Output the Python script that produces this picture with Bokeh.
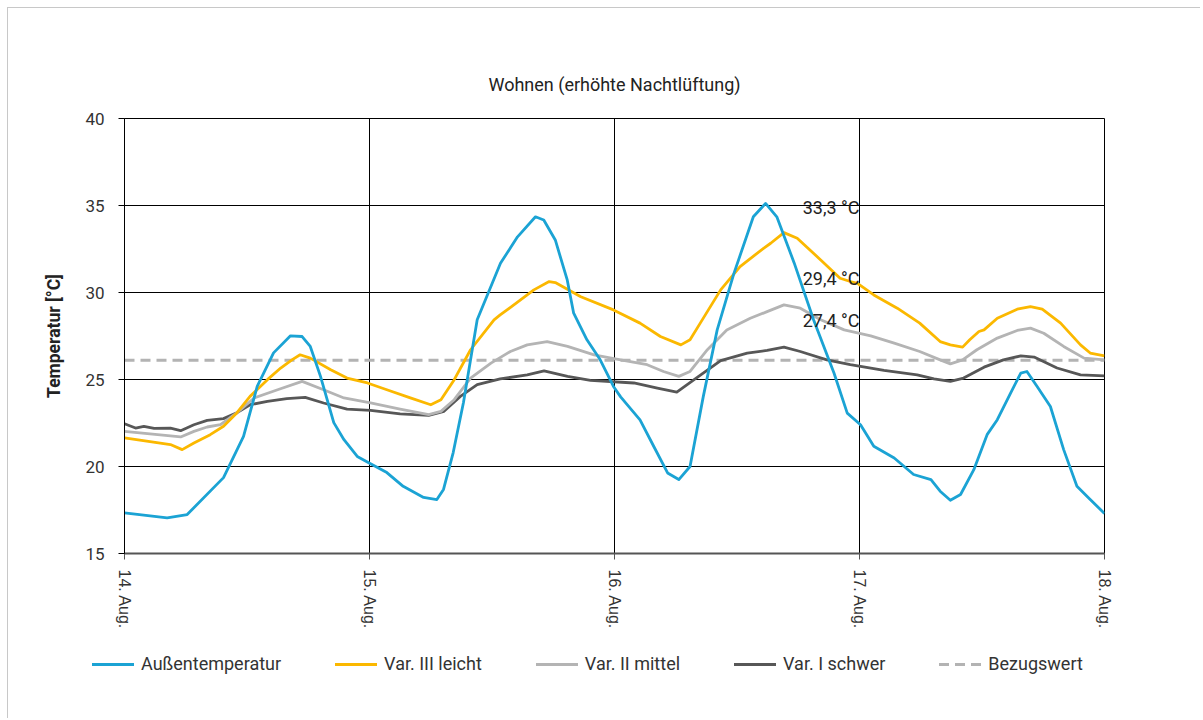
from bokeh.plotting import figure
from bokeh.models import Label, FixedTicker, Range1d, Title, Div
from bokeh.layouts import column
from bokeh.embed import file_html
from bokeh.resources import INLINE

# ---------------- data (hours since 14. Aug 00:00, temperature °C) ----------------
tick_hours = [0, 24, 48, 72, 96]
tick_labels = ["14. Aug.", "15. Aug.", "16. Aug.", "17. Aug.", "18. Aug."]

aussen_h = [0, 4.18, 6.14, 9.7, 11.66, 13.0, 14.6, 16.26, 17.4, 18.2, 19.2, 20.5, 21.5, 22.8,
            24.1, 25.7, 27.3, 29.3, 30.6, 31.25, 32.2, 33.2, 34.55, 36.83, 38.5, 40.26, 41.07,
            42.2, 43.37, 44.0, 45.3, 46.6, 47.9, 48.6, 50.5, 51.85, 53.2, 54.3, 55.4, 56.7,
            58.06, 59.7, 61.6, 62.8, 63.9, 65.6, 67.5, 69.5, 70.8, 72.1, 73.4, 75.4, 77.3,
            79.0, 79.9, 80.9, 81.9, 83.2, 84.5, 85.5, 86.8, 87.8, 88.4, 89.4, 90.7, 92.0,
            93.3, 94.6, 96]
aussen_t = [17.34, 17.05, 17.24, 19.36, 21.73, 24.6, 26.53, 27.51, 27.47, 26.9, 25.18, 22.52,
            21.54, 20.58, 20.16, 19.65, 18.86, 18.22, 18.10, 18.68, 20.8, 23.66, 28.43, 31.68,
            33.2, 34.35, 34.17, 33.02, 30.72, 28.81, 27.28, 26.13, 24.6, 24.0, 22.68, 21.15,
            19.63, 19.25, 20.0, 24.03, 27.85, 31.1, 34.35, 35.12, 34.35, 31.7, 28.43, 25.37,
            23.07, 22.4, 21.16, 20.49, 19.54, 19.25, 18.58, 18.06, 18.39, 19.82, 21.83, 22.69,
            24.22, 25.37, 25.46, 24.6, 23.45, 20.97, 18.86, 18.1, 17.3]

leicht_h = [0, 4.5, 5.65, 6.8, 8.4, 9.7, 11.0, 12.3, 14.0, 15.3, 16.4, 17.2, 18.2, 20.2, 21.8,
            23.8, 25.7, 28.0, 30.0, 31.0, 32.3, 33.9, 36.2, 36.8, 38.5, 40.1, 41.6, 42.2, 44.7,
            47.9, 50.5, 52.5, 54.5, 55.4, 56.4, 58.4, 60.3, 62.6, 63.3, 64.6, 65.9, 68.2, 70.1,
            71.1, 71.8, 73.4, 75.7, 77.9, 79.9, 80.9, 82.1, 82.8, 83.7, 84.2, 85.5, 87.45,
            88.75, 89.9, 91.7, 93.65, 94.6, 96]
leicht_t = [21.64, 21.26, 20.97, 21.35, 21.83, 22.31, 23.08, 24.03, 24.99, 25.66, 26.13, 26.42,
            26.23, 25.56, 25.08, 24.8, 24.41, 23.94, 23.55, 23.84, 24.99, 26.71, 28.43, 28.71,
            29.45, 30.15, 30.63, 30.57, 29.76, 29.0, 28.24, 27.47, 26.99, 27.28, 28.24, 30.15,
            31.49, 32.54, 32.83, 33.44, 33.12, 31.87, 30.82, 30.63, 30.53, 29.86, 29.1, 28.24,
            27.18, 26.99, 26.86, 27.28, 27.76, 27.85, 28.52, 29.04, 29.19, 29.04, 28.24, 26.99,
            26.52, 26.36]

mittel_h = [0, 5.5, 6.8, 8.1, 9.4, 11.0, 12.7, 15.0, 17.4, 19.5, 21.5, 24.1, 27.0, 29.8, 31.0,
            32.3, 33.9, 35.9, 37.8, 39.45, 41.4, 43.4, 46.0, 48.6, 51.2, 52.8, 54.3, 55.4, 57.1,
            59.0, 61.3, 62.95, 64.6, 66.2, 68.2, 70.5, 73.1, 75.4, 77.9, 79.9, 80.9, 82.1, 83.5,
            85.5, 87.45, 88.75, 90.05, 92.0, 94.0, 96]
mittel_t = [22.02, 21.7, 22.02, 22.27, 22.4, 23.08, 23.94, 24.41, 24.89, 24.41, 23.94, 23.65,
            23.3, 22.98, 23.17, 23.84, 25.08, 25.94, 26.61, 26.99, 27.18, 26.9, 26.42, 26.13,
            25.85, 25.46, 25.18, 25.46, 26.71, 27.85, 28.52, 28.9, 29.29, 29.1, 28.43, 27.85,
            27.51, 27.09, 26.61, 26.13, 25.9, 26.13, 26.71, 27.38, 27.82, 27.95, 27.66, 26.9,
            26.23, 26.13]

schwer_h = [0, 1.08, 1.9, 2.9, 4.5, 5.5, 6.8, 8.1, 9.7, 11.0, 12.3, 14.0, 15.9, 17.7, 19.5,
            21.8, 24.1, 27.0, 29.8, 31.3, 32.9, 34.55, 36.8, 39.45, 41.1, 43.4, 45.65, 49.9,
            52.2, 54.1, 55.8, 58.4, 61.0, 62.95, 64.6, 66.2, 68.8, 71.1, 74.4, 77.65, 79.3,
            80.9, 82.2, 84.2, 86.1, 87.8, 89.1, 91.35, 93.65, 96]
schwer_t = [22.46, 22.21, 22.31, 22.19, 22.21, 22.06, 22.4, 22.65, 22.75, 23.08, 23.55, 23.74,
            23.9, 23.97, 23.65, 23.3, 23.22, 23.02, 22.94, 23.17, 24.03, 24.7, 25.03, 25.27,
            25.5, 25.18, 24.95, 24.8, 24.51, 24.28, 24.99, 26.09, 26.52, 26.67, 26.86, 26.61,
            26.13, 25.85, 25.52, 25.27, 25.03, 24.89, 25.08, 25.71, 26.13, 26.36, 26.29, 25.66,
            25.27, 25.21]

bezug_h = [0, 96]
bezug_t = [26.1, 26.1]

series_names = ["Außentemperatur", "Var. III leicht", "Var. II mittel", "Var. I schwer", "Bezugswert"]
series_colors = ["#1ba3d4", "#fbb800", "#b4b4b4", "#575757", "#b3b3b3"]
annot_texts = ["33,3 °C", "29,4 °C", "27,4 °C"]
annot_y = [34.9, 30.8, 28.4]
title_text = "Wohnen (erhöhte Nachtlüftung)"

FONT = "Roboto"
DASH = "10 6"

# ---------------- main figure ----------------
p = figure(width=1200, height=632, output_backend="svg", toolbar_location=None,
           x_range=Range1d(0, 96), y_range=Range1d(15, 40),
           min_border_left=124, min_border_right=96, min_border_top=118, min_border_bottom=78)
p.background_fill_color = "white"
p.border_fill_alpha = 0
p.outline_line_color = "black"
p.outline_line_width = 1

p.xaxis.ticker = FixedTicker(ticks=tick_hours)
p.xaxis.major_label_overrides = {h: l for h, l in zip(tick_hours, tick_labels)}
p.xaxis.major_label_orientation = "vertical"
p.xaxis.major_label_text_font = "Liberation Sans"
p.xaxis.major_label_text_font_size = "16px"
p.xaxis.major_label_text_color = "#333333"
p.xaxis.major_label_standoff = 10
p.xaxis.major_tick_out = 6
p.xaxis.major_tick_in = 0
p.xaxis.minor_tick_line_color = None
p.xaxis.axis_line_color = "#555555"
p.xaxis.axis_line_width = 2
p.xaxis.major_tick_line_color = "#555555"

p.yaxis.ticker = FixedTicker(ticks=[15, 20, 25, 30, 35, 40])
p.yaxis.major_label_text_font = FONT
p.yaxis.major_label_text_font_size = "17px"
p.yaxis.major_label_text_color = "#333333"
p.yaxis.major_label_standoff = 14
p.yaxis.major_tick_out = 6
p.yaxis.major_tick_in = 0
p.yaxis.minor_tick_line_color = None
p.yaxis.axis_line_color = "black"
p.yaxis.major_tick_line_color = "black"
p.yaxis.axis_label = "Temperatur [°C]"
p.yaxis.axis_label_text_font = FONT
p.yaxis.axis_label_text_font_style = "bold"
p.yaxis.axis_label_text_font_size = "17.5px"
p.yaxis.axis_label_text_color = "#222222"
p.yaxis.axis_label_standoff = 18

p.xgrid.ticker = FixedTicker(ticks=tick_hours)
p.ygrid.ticker = FixedTicker(ticks=[15, 20, 25, 30, 35, 40])
p.xgrid.grid_line_color = "black"
p.ygrid.grid_line_color = "black"

p.line(bezug_h, bezug_t, line_color=series_colors[4], line_width=3, line_dash=DASH)
p.line(schwer_h, schwer_t, line_color=series_colors[3], line_width=2.8, line_join="round")
p.line(mittel_h, mittel_t, line_color=series_colors[2], line_width=2.8, line_join="round")
p.line(leicht_h, leicht_t, line_color=series_colors[1], line_width=2.8, line_join="round")
p.line(aussen_h, aussen_t, line_color=series_colors[0], line_width=2.8, line_join="round")

for t, y in zip(annot_texts, annot_y):
    p.add_layout(Label(x=72, y=y, text=t, text_align="right", text_baseline="middle",
                       text_font=FONT, text_font_size="18px", text_color="#222222"))

p.add_layout(Title(text=title_text, align="center", text_font=FONT, text_font_size="18px",
                   text_font_style="normal", text_color="#222222", standoff=47), "above")

# ---------------- legend strip (HTML) ----------------
parts = []
for i, (name, col) in enumerate(zip(series_names, series_colors)):
    if i == 4:
        swatch_bg = f"repeating-linear-gradient(to right, {col} 0 10px, transparent 10px 16px)"
    else:
        swatch_bg = col
    parts.append(
        '<div style="display:flex;align-items:center;">'
        f'<span style="display:inline-block;width:42px;height:3px;background:{swatch_bg};"></span>'
        f'<span style="margin-left:7px;white-space:nowrap;">{name}</span></div>'
    )
legend_html = (
    f'<div style="display:flex;align-items:center;gap:54px;height:64px;padding-left:92px;'
    f'font-family:{FONT};font-size:18px;color:#333333;line-height:1;">' + "".join(parts) + "</div>"
)
legend_div = Div(text=legend_html, width=1200, height=86, margin=(0, 0, 0, 0))

layout = column(p, legend_div, spacing=0,
                styles={"box-shadow": "inset 7px 7px 0 0 white, inset 8px 8px 0 0 #c8c8c8"})

open("out.html", "w").write(file_html(layout, INLINE))
